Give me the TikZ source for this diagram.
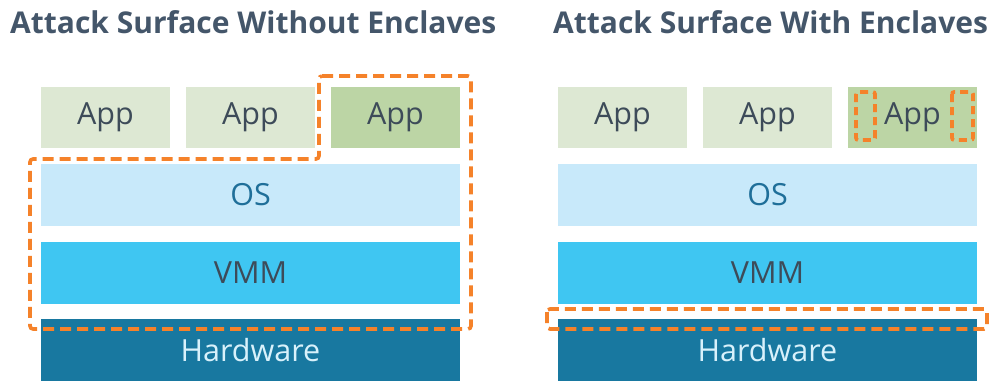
\documentclass[tikz,border=0pt]{standalone}
\usepackage{fontspec}
\setmainfont{Open Sans}
\definecolor{appfill}{HTML}{DDE8D3}
\definecolor{appdark}{HTML}{BCD5A5}
\definecolor{osfill}{HTML}{C8E9FA}
\definecolor{vmmfill}{HTML}{3FC6F2}
\definecolor{hwfill}{HTML}{1878A0}
\definecolor{inktext}{HTML}{3D4B59}
\definecolor{ostext}{HTML}{1F6F99}
\definecolor{hwtext}{HTML}{D8F1FB}
\definecolor{titletext}{HTML}{44566A}
\definecolor{attack}{HTML}{F5822A}
\begin{document}
\begin{tikzpicture}[x=1pt,y=-1pt,
  layer/.style={inner sep=0pt, outer sep=0pt, anchor=north west,
    minimum height=62pt, font=\fontsize{30.5}{30.5}\selectfont},
  appbox/.style={layer, fill=appfill, text=inktext, minimum width=129pt, minimum height=61pt},
  appsel/.style={appbox, fill=appdark},
  osbox/.style={layer, fill=osfill, text=ostext, minimum width=419pt},
  vmmbox/.style={layer, fill=vmmfill, text=inktext, minimum width=419pt},
  hwbox/.style={layer, fill=hwfill, text=hwtext, minimum width=419pt},
  heading/.style={anchor=base west, inner sep=0pt, text=titletext,
    font=\fontsize{30}{30}\selectfont\bfseries},
  surface/.style={draw=attack, line width=3.6pt, dash pattern=on 11pt off 6pt, rounded corners=3pt},
  enclave/.style={draw=attack, line width=3.6pt, dash pattern=on 8pt off 5pt, rounded corners=2pt}]
\useasboundingbox (0,0) rectangle (992,381);

% headings
\node[heading] (tl) at (10,33) {Attack Surface Without Enclaves};
\node[heading] (tr) at (553,33) {Attack Surface With Enclaves};

% left stack
\node[appbox] (la1) at (41,87) {App};
\node[appbox] (la2) at (186,87) {App};
\node[appsel] (la3) at (331,87) {App};
\node[osbox] (los) at (41,164) {OS};
\node[vmmbox] (lvmm) at (41,242) {VMM};
\node[hwbox] (lhw) at (41,319) {Hardware};

% right stack
\node[appbox] (ra1) at (558,87) {App};
\node[appbox] (ra2) at (703,87) {App};
\node[appsel] (ra3) at (848,87) {App};
\node[osbox] (ros) at (558,164) {OS};
\node[vmmbox] (rvmm) at (558,242) {VMM};
\node[hwbox] (rhw) at (558,319) {Hardware};

% attack surface outlines
\draw[surface] (319,76) -- (471,76) -- (471,329) -- (30,329) -- (30,159) -- (319,159) -- cycle;
\draw[surface] (547,309) rectangle (987,329);

% enclave markers inside the protected app
\draw[enclave] (856,92) rectangle (875,140);
\draw[enclave] (952,92) rectangle (973,140);
\end{tikzpicture}
\end{document}
